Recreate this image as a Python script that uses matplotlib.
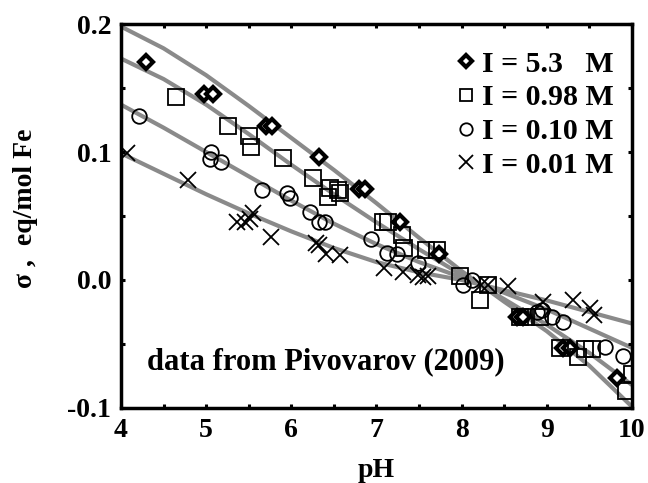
import matplotlib
matplotlib.use('Agg')
import matplotlib.pyplot as plt
from matplotlib.ticker import MultipleLocator

plt.rcParams['font.family'] = ['Liberation Serif', 'DejaVu Serif']
plt.rcParams['font.weight'] = 'bold'

# model curves
curve_ph = [4.0, 4.5, 5.0, 5.5, 6.0, 6.5, 7.0, 7.5, 8.0, 8.5, 9.0, 9.5, 10.0]
curve_53 = [0.198, 0.181, 0.160, 0.136, 0.111, 0.086, 0.060, 0.033, 0.007,
            -0.017, -0.040, -0.067, -0.099]
curve_098 = [0.173, 0.157, 0.137, 0.114, 0.090, 0.067, 0.045, 0.024, 0.004,
             -0.015, -0.035, -0.057, -0.082]
curve_010 = [0.137, 0.119, 0.100, 0.081, 0.062, 0.044, 0.028, 0.014, 0.002,
             -0.010, -0.023, -0.038, -0.053]
curve_001 = [0.099, 0.083, 0.067, 0.052, 0.038, 0.025, 0.014, 0.006, 0.000,
             -0.008, -0.016, -0.025, -0.034]

# data points, I = 5.3 M
ph_53 = [4.29, 4.98, 5.08, 5.70, 5.77, 6.32, 6.79, 6.86, 7.28, 7.73,
         8.65, 8.72, 9.19, 9.27, 9.82]
s_53 = [0.170, 0.145, 0.145, 0.1205, 0.1205, 0.096, 0.071, 0.071, 0.0455, 0.020,
        -0.0287, -0.0287, -0.0534, -0.0534, -0.0768]

# I = 0.98 M
ph_098 = [4.65, 5.26, 5.50, 5.53, 5.90, 6.26, 6.43, 6.45, 6.55, 6.57,
          7.08, 7.13, 7.30, 7.32, 7.58, 7.71, 7.98, 8.22, 8.31,
          8.68, 8.76, 8.92, 9.15, 9.37, 9.45, 9.53, 10.0, 9.93]
s_098 = [0.143, 0.120, 0.1125, 0.104, 0.095, 0.0795, 0.065, 0.0716, 0.0703, 0.0677,
         0.0455, 0.0455, 0.035, 0.025, 0.0234, 0.0234, 0.0035, -0.0156, -0.004,
         -0.0287, -0.0287, -0.0287, -0.0534, -0.060, -0.054, -0.054, -0.0737, -0.0865]

# I = 0.10 M
ph_010 = [4.21, 5.06, 5.04, 5.17, 5.65, 5.95, 5.98, 6.22, 6.32, 6.40,
          6.94, 7.12, 7.24, 7.49, 8.02, 8.12, 8.88, 8.94, 9.06, 9.19, 9.68, 9.90]
s_010 = [0.128, 0.100, 0.0945, 0.092, 0.070, 0.0677, 0.0638, 0.0534, 0.0455, 0.0455,
         0.032, 0.0208, 0.0205, 0.0135, -0.004, 0.000, -0.0248, -0.0234, -0.0287,
         -0.0326, -0.0526, -0.059]

# I = 0.01 M
ph_001 = [4.07, 4.79, 5.36, 5.46, 5.51, 5.55, 5.76, 6.29, 6.33, 6.41, 6.57,
          7.09, 7.31, 7.49, 7.55, 7.61, 8.23, 8.31, 8.55, 8.96, 9.31, 9.51, 9.55]
s_001 = [0.099, 0.078, 0.045, 0.045, 0.048, 0.052, 0.0333, 0.029, 0.027, 0.0205, 0.0195,
         0.009, 0.006, 0.004, 0.0026, 0.0035, -0.004, -0.004, -0.005, -0.017,
         -0.0156, -0.022, -0.027]

fig = plt.figure(figsize=(6.48, 4.83), dpi=100)
ax = fig.add_axes([0.1867, 0.1553, 0.7886, 0.7950])

gray = '#8a8a8a'
for c in [curve_53, curve_098, curve_010, curve_001]:
    ax.plot(curve_ph, c, color=gray, lw=3, solid_joinstyle='round',
            solid_capstyle='butt', zorder=1)

ax.plot(ph_53, s_53, ls='none', marker='D', ms=7.5, mfc='white', mec='black',
        mew=3, label='I = 5.3   M', zorder=3)
ax.plot(ph_098, s_098, ls='none', marker='s', ms=11, mfc='none', mec='black',
        mew=1.3, label='I = 0.98 M', zorder=3)
ax.plot(ph_010, s_010, ls='none', marker='o', ms=10.5, mfc='none', mec='black',
        mew=1.3, label='I = 0.10 M', zorder=3)
ax.plot(ph_001, s_001, ls='none', marker='x', ms=12, mfc='none', mec='black',
        mew=1.3, label='I = 0.01 M', zorder=3)

ax.set_xlim(4, 10)
ax.set_ylim(-0.1, 0.2)
ax.xaxis.set_major_locator(MultipleLocator(1))
ax.xaxis.set_minor_locator(MultipleLocator(0.5))
ax.yaxis.set_major_locator(MultipleLocator(0.1))
ax.yaxis.set_minor_locator(MultipleLocator(0.05))
ax.yaxis.set_major_formatter(plt.FormatStrFormatter('%.1f'))

for sp in ax.spines.values():
    sp.set_linewidth(2.5)
ax.tick_params(which='both', direction='in', top=True, right=True,
               length=3, width=2.2, labelsize=20, pad=7)

ax.set_xlabel('pH', fontsize=20, fontweight='bold')
ax.xaxis.set_label_coords(0.5, -0.13)
ax.set_ylabel('σ ,  eq/mol Fe', fontsize=20, fontweight='bold')
ax.yaxis.set_label_coords(-0.162, 0.52)

ax.text(4.31, -0.064, 'data from Pivovarov (2009)', fontsize=22,
        fontweight='bold', va='center', ha='left')

ax.legend(loc='upper right', bbox_to_anchor=(0.965, 0.93), frameon=False,
          borderaxespad=0, borderpad=0, handlelength=0.6, handletextpad=0.25,
          labelspacing=0.22, markerscale=0.85,
          prop={'family': 'Liberation Serif', 'weight': 'bold', 'size': 21.5})

fig.savefig('out.png', dpi=100)
